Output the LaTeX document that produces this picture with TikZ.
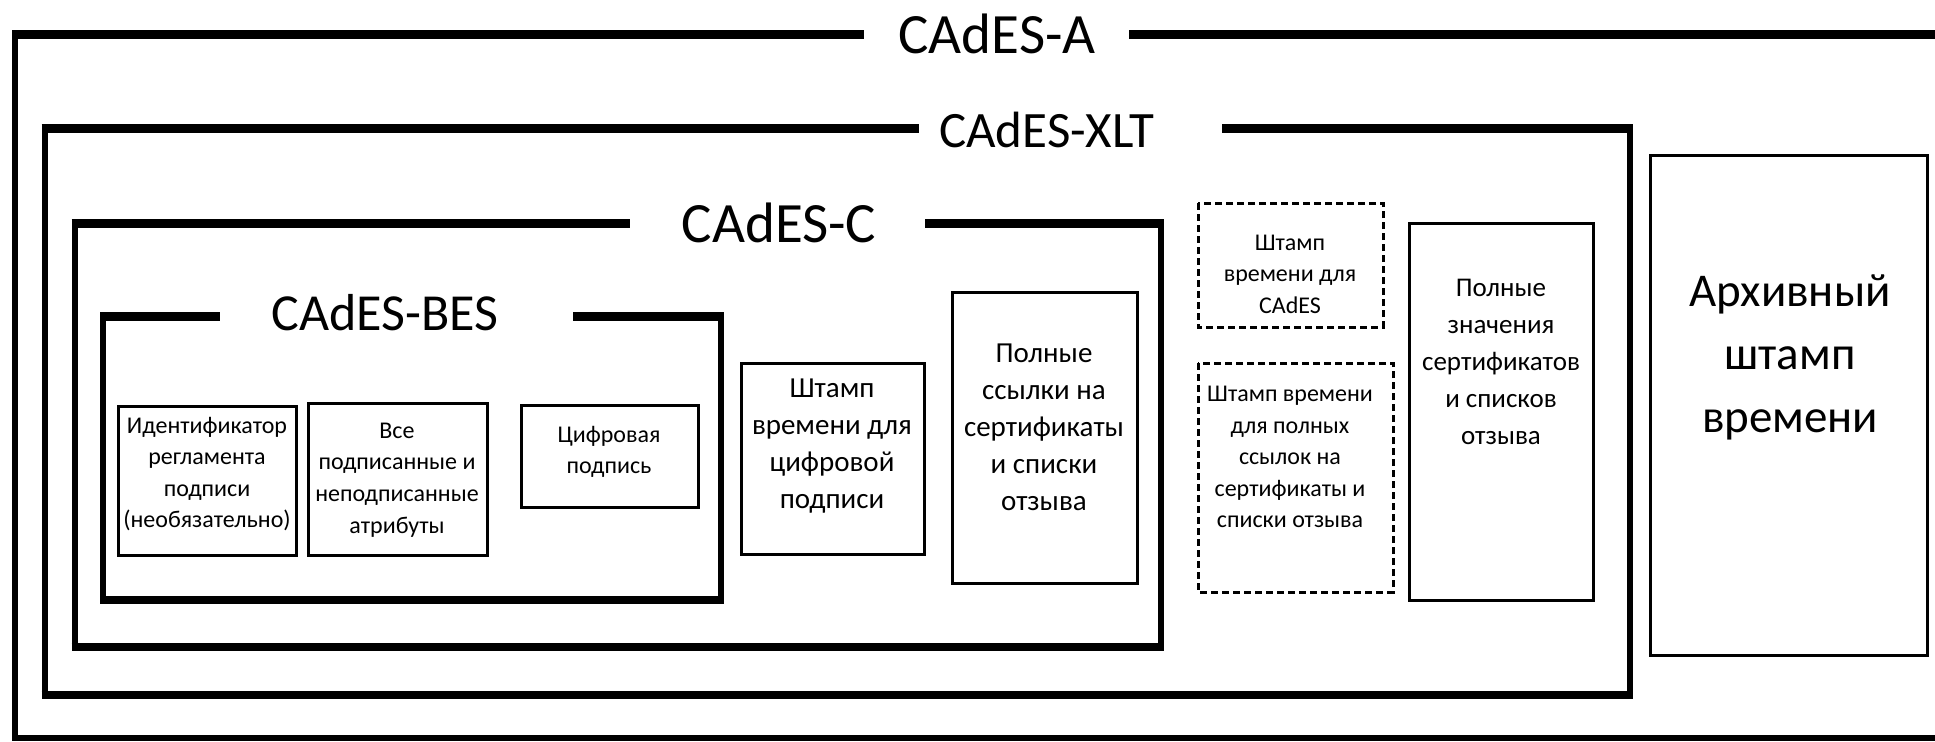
\documentclass[tikz,border=0pt]{standalone}
\usepackage{fontspec}
\setmainfont{Carlito}
\usepackage{tikz}
\tikzstyle{frame} = [line width=3pt, draw=black]
\tikzstyle{frametop} = [line width=4.5pt, draw=black]
\tikzstyle{framebot} = [line width=3.75pt, draw=black]
\tikzstyle{title} = [inner sep=0pt, text centered]
\tikzstyle{cell} = [line width=1.5pt, draw=black]
\tikzstyle{dcell} = [line width=1.5pt, draw=black, dash pattern=on 3.5pt off 2pt]
\tikzstyle{txtsmall} = [align=center, inner sep=0pt, font=\fontsize{12}{15.8}\selectfont]
\tikzstyle{txtmid} = [align=center, inner sep=0pt, font=\fontsize{14.5}{18.5}\selectfont]
\tikzstyle{txtbig} = [align=center, inner sep=0pt, font=\fontsize{23.5}{31.5}\selectfont]

\begin{document}
\begin{tikzpicture}[x=0.5pt, y=-0.5pt]
  \useasboundingbox (0,0) rectangle (1935,741);
  \clip (0,0) rectangle (1935,741);

  % CAdES-A
  \draw[frame] (15,34) -- (15,738) (12,738) -- (1940,738);
  \draw[frametop] (12,34) -- (864,34) (1129,34) -- (1940,34);
  \node[title, font=\fontsize{28.5}{34}\selectfont] (cadesA) at (997,34) {CAdES-A};

  % CAdES-XLT
  \draw[frame] (44.5,128) -- (44.5,695) (1630,128) -- (1630,695);
  \draw[frametop] (41.5,128) -- (919,128) (1222,128) -- (1633,128);
  \draw[framebot] (41.5,695) -- (1633,695);
  \node[title, font=\fontsize{25.5}{30}\selectfont] (cadesXLT) at (1047,130) {CAdES-XLT};

  % CAdES-C
  \draw[frame] (74.5,223) -- (74.5,647) (1161,223) -- (1161,647);
  \draw[frametop] (71.5,223) -- (630,223) (925,223) -- (1164,223);
  \draw[framebot] (71.5,647) -- (1164,647);
  \node[title, font=\fontsize{28.5}{34}\selectfont] (cadesC) at (779,223) {CAdES-C};

  % CAdES-BES
  \draw[frame] (103,316) -- (103,600) (720.5,316) -- (720.5,600);
  \draw[frametop] (100,316) -- (220,316) (573,316) -- (723.5,316);
  \draw[framebot] (100,600) -- (723.5,600);
  \node[title, font=\fontsize{26}{30}\selectfont] (cadesBES) at (385,313) {CAdES-BES};

  \draw[cell] (118,406) rectangle (296,555);
  \node[txtsmall] (ident) at (207,474) {Идентификатор\\регламента\\подписи\\(необязательно)};
  \draw[cell] (308,403) rectangle (487,555);
  \node[txtsmall] (attrs) at (397,480) {Все\\подписанные и\\неподписанные\\атрибуты};
  \draw[cell] (521,405) rectangle (698,507);
  \node[txtsmall] (digsig) at (609,452) {Цифровая\\подпись};

  \draw[cell] (741,363) rectangle (924,554);
  \node[txtmid] (tssig) at (832,446) {Штамп\\времени для\\цифровой\\подписи};
  \draw[cell] (952,292) rectangle (1137,583);
  \node[txtmid] (refs) at (1044,427) {Полные\\ссылки на\\сертификаты\\и списки\\отзыва};

  \draw[dcell] (1198,203) rectangle (1383,327);
  \node[txtsmall] (tscades) at (1290,274) {Штамп\\времени для\\CAdES};
  \draw[dcell] (1198,363) rectangle (1393,592);
  \node[txtsmall] (tsrefs) at (1290,457) {Штамп времени\\для полных\\ссылок на\\сертификаты и\\списки отзыва};
  \draw[cell] (1409,223) rectangle (1593,600);
  \node[txtmid, font=\fontsize{13.5}{18.5}\selectfont] (vals) at (1501,362) {Полные\\значения\\сертификатов\\и списков\\отзыва};

  \draw[cell] (1650,155) rectangle (1927,655);
  \node[txtbig] (archts) at (1790,357) {Архивный\\штамп\\времени};
\end{tikzpicture}
\end{document}
